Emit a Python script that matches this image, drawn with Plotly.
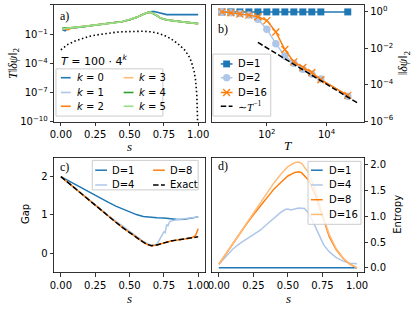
import plotly.graph_objects as go

W, H = 415, 309
def px(x): return x / W
def py(y): return 1 - y / H

# ---------------- data ----------------
# panel a
s_a = [0.01, 0.03, 0.05, 0.08, 0.1, 0.15, 0.2, 0.25, 0.3, 0.35, 0.4, 0.45, 0.5, 0.55,
       0.6, 0.62, 0.64, 0.66, 0.68, 0.7, 0.72, 0.74, 0.77, 0.8, 0.85, 0.9, 0.95, 1.0]
a_k0 = [0.30, 0.22, 0.40, 0.43, 0.47, 0.56, 0.69, 0.85, 1.05, 1.26, 1.55, 2.0, 3.02, 5.25,
        11.2, 14.5, 19.0, 20.9, 20.9, 17.8, 14.1, 11.2, 10.0, 10.0, 10.2, 10.2, 10.2, 10.0]
a_k1 = [0.33, 0.37, 0.40, 0.44, 0.47, 0.56, 0.69, 0.85, 1.05, 1.26, 1.55, 2.0, 3.02, 5.25,
        11.2, 14.1, 17.8, 16.6, 12.6, 7.94, 5.25, 3.80, 2.95, 2.51, 2.09, 1.74, 1.45, 1.20]
a_k2 = [0.36, 0.40, 0.28, 0.45, 0.47, 0.57, 0.69, 0.85, 1.05, 1.26, 1.55, 2.0, 3.02, 5.25,
        11.2, 14.1, 17.8, 16.6, 12.6, 7.94, 5.25, 3.80, 2.95, 2.51, 2.09, 1.74, 1.45, 1.20]
a_k3 = [0.38, 0.40, 0.42, 0.46, 0.52, 0.60, 0.70, 0.86, 1.05, 1.26, 1.55, 2.0, 3.02, 5.25,
        11.2, 14.1, 17.8, 16.6, 12.6, 7.94, 5.25, 3.80, 2.95, 2.51, 2.09, 1.74, 1.45, 1.20]
a_k4 = [0.40, 0.45, 0.42, 0.44, 0.47, 0.56, 0.69, 0.85, 1.05, 1.26, 1.55, 2.0, 3.02, 5.25,
        11.2, 14.1, 17.8, 16.6, 12.6, 7.94, 5.25, 3.80, 2.95, 2.51, 2.09, 1.74, 1.45, 1.20]
a_k5 = [0.355, 0.380, 0.398, 0.437, 0.468, 0.562, 0.692, 0.851, 1.05, 1.26, 1.55, 2.0, 3.02, 5.25,
        11.2, 14.1, 17.8, 16.6, 12.6, 7.94, 5.25, 3.80, 2.95, 2.51, 2.09, 1.74, 1.45, 1.20]
k_names = ["0", "1", "2", "3", "4", "5"]

s_dot = [0.0, 0.02, 0.05, 0.1, 0.15, 0.2, 0.25, 0.3, 0.35, 0.4, 0.45, 0.5, 0.55, 0.6, 0.65,
         0.7, 0.75, 0.8, 0.85, 0.9, 0.93, 0.95, 0.97, 0.98, 0.99, 0.995, 0.999]
dot_vals = [2.5e-3, 4.5e-3, 8.9e-3, 1.9e-2, 3.5e-2, 5.6e-2, 7.9e-2, 0.105, 0.132, 0.158, 0.178,
            0.195, 0.204, 0.200, 0.178, 0.132, 0.079, 0.035, 1.12e-2, 2.5e-3, 6.3e-4, 1.6e-4,
            1.6e-5, 2.5e-6, 6.3e-8, 1e-9, 3e-12]

# panel b
T_b = [3.125, 6.25, 12.5, 25, 50, 100, 200, 400, 800, 1600, 3200, 6400, 51200]
b_D1 = [0.99, 0.99, 0.99, 0.99, 0.99, 0.99, 0.99, 0.99, 0.99, 0.99, 0.99, 0.99, 0.99]
b_D2 = [1.0, 0.89, 0.81, 0.66, 0.39, 0.112, 0.0178, 3.7e-3, 1.48e-3, 7.1e-4, 3.8e-4, 2.04e-4, 2.34e-5]
b_D16 = [1.0, 0.89, 0.76, 0.66, 0.54, 0.33, 0.078, 8.5e-3, 1.78e-3, 8.7e-4, 4.7e-4, 1.86e-4, 2.57e-5]
T_ref = [50, 120000]
ref_vals = [2.1e-2, 8.9e-6]

# panel c
s_c = [0.0, 0.05, 0.1, 0.15, 0.2, 0.25, 0.3, 0.35, 0.4, 0.45, 0.5, 0.55, 0.6, 0.63, 0.66,
       0.7, 0.75, 0.8, 0.85, 0.9, 0.95, 0.98, 1.0]
gap_exact = [2.0, 1.85, 1.7, 1.55, 1.39, 1.24, 1.09, 0.95, 0.81, 0.67, 0.54, 0.41, 0.29, 0.23,
             0.2, 0.22, 0.28, 0.32, 0.35, 0.37, 0.4, 0.42, 0.43]
gap_D8 = [2.0, 1.85, 1.7, 1.55, 1.39, 1.24, 1.09, 0.95, 0.81, 0.67, 0.54, 0.41, 0.29, 0.23,
          0.2, 0.22, 0.28, 0.32, 0.35, 0.37, 0.4, 0.46, 0.64]
gap_D1 = [2.0, 1.9, 1.8, 1.7, 1.6, 1.5, 1.41, 1.32, 1.23, 1.15, 1.08, 1.01, 0.96, 0.945, 0.94,
          0.93, 0.92, 0.9, 0.88, 0.89, 0.92, 0.94, 0.95]
s_c4 = [0.0, 0.1, 0.2, 0.3, 0.35, 0.4, 0.45, 0.5, 0.55, 0.6, 0.65, 0.68, 0.7, 0.71, 0.72, 0.73,
        0.74, 0.75, 0.76, 0.77, 0.78, 0.79, 0.8, 0.82, 0.85, 0.9, 0.95, 1.0]
gap_D4 = [2.0, 1.7, 1.4, 1.1, 0.97, 0.84, 0.71, 0.57, 0.44, 0.31, 0.22, 0.21, 0.24, 0.3, 0.37,
          0.41, 0.5, 0.56, 0.54, 0.75, 0.72, 0.81, 0.84, 0.86, 0.88, 0.9, 0.92, 0.95]

# panel d
s_d = [0.0, 0.05, 0.1, 0.15, 0.2, 0.25, 0.3, 0.35, 0.4, 0.45, 0.5, 0.55, 0.58, 0.6, 0.65,
       0.7, 0.75, 0.8, 0.85, 0.9, 0.95, 1.0]
ent_D1 = [0.0, 0.0, 0.0, 0.0, 0.0, 0.0, 0.0, 0.0, 0.0, 0.0, 0.0, 0.0, 0.0, 0.0, 0.0,
          0.0, 0.0, 0.0, 0.0, 0.0, 0.0, 0.0]
ent_D8 = [0.07, 0.27, 0.47, 0.66, 0.85, 1.03, 1.2, 1.37, 1.53, 1.66, 1.78, 1.85, 1.86, 1.84,
          1.7, 1.4, 0.98, 0.6, 0.35, 0.18, 0.07, 0.0]
ent_D16 = [0.07, 0.27, 0.47, 0.67, 0.87, 1.07, 1.27, 1.46, 1.65, 1.82, 1.96, 2.04, 2.05, 2.02,
           1.84, 1.5, 1.03, 0.64, 0.37, 0.19, 0.07, 0.0]
s_d4 = [0.0, 0.05, 0.1, 0.15, 0.2, 0.25, 0.3, 0.35, 0.4, 0.45, 0.48, 0.5, 0.52, 0.55, 0.58,
        0.62, 0.65, 0.68, 0.7, 0.73, 0.76, 0.8, 0.85, 0.9, 0.95, 1.0]
ent_D4 = [0.07, 0.22, 0.36, 0.47, 0.56, 0.64, 0.73, 0.85, 0.97, 1.08, 1.13, 1.14, 1.12, 1.14,
          1.16, 1.15, 1.06, 0.9, 0.78, 0.6, 0.44, 0.31, 0.2, 0.13, 0.09, 0.08]

s_ticks = [0, 0.25, 0.5, 0.75, 1.0]
s_ticktext = ["0.00", "0.25", "0.50", "0.75", "1.00"]

# ---------------- styling ----------------
C = ['#1f77b4', '#aec7e8', '#ff7f0e', '#ffbb78', '#2ca02c', '#98df8a']
DASH = "5.5px,2.4px"
DOT = "1.5px,2.5px"
SANS = "DejaVu Sans"
SERIF = "Liberation Serif"

fig = go.Figure()

for i, ys in enumerate([a_k0, a_k1, a_k2, a_k3, a_k4, a_k5]):
    fig.add_trace(go.Scatter(x=s_a, y=ys, mode='lines', line=dict(color=C[i], width=1.7),
                             xaxis='x', yaxis='y', showlegend=False))
fig.add_trace(go.Scatter(x=s_dot, y=dot_vals, mode='lines',
                         line=dict(color='black', width=1.6, dash=DOT),
                         xaxis='x', yaxis='y', showlegend=False))

fig.add_trace(go.Scatter(x=T_b, y=b_D1, mode='lines+markers', line=dict(color=C[0], width=1.5),
                         marker=dict(symbol='square', size=7, color=C[0]),
                         xaxis='x2', yaxis='y2', showlegend=False))
fig.add_trace(go.Scatter(x=T_b, y=b_D2, mode='lines+markers', line=dict(color=C[1], width=1.5),
                         marker=dict(symbol='circle', size=7.5, color=C[1]),
                         xaxis='x2', yaxis='y2', showlegend=False))
fig.add_trace(go.Scatter(x=T_b, y=b_D16, mode='lines+markers', line=dict(color=C[2], width=1.5),
                         marker=dict(symbol='x-thin', size=7, color=C[2],
                                     line=dict(color=C[2], width=1.3)),
                         xaxis='x2', yaxis='y2', showlegend=False))
fig.add_trace(go.Scatter(x=T_ref, y=ref_vals, mode='lines',
                         line=dict(color='black', width=1.5, dash=DASH),
                         xaxis='x2', yaxis='y2', showlegend=False))

fig.add_trace(go.Scatter(x=s_c, y=gap_D1, mode='lines', line=dict(color=C[0], width=1.5),
                         xaxis='x3', yaxis='y3', showlegend=False))
fig.add_trace(go.Scatter(x=s_c4, y=gap_D4, mode='lines', line=dict(color=C[1], width=1.5),
                         xaxis='x3', yaxis='y3', showlegend=False))
fig.add_trace(go.Scatter(x=s_c, y=gap_D8, mode='lines', line=dict(color=C[2], width=1.5),
                         xaxis='x3', yaxis='y3', showlegend=False))
fig.add_trace(go.Scatter(x=s_c, y=gap_exact, mode='lines',
                         line=dict(color='black', width=1.5, dash=DASH),
                         xaxis='x3', yaxis='y3', showlegend=False))

fig.add_trace(go.Scatter(x=s_d, y=ent_D1, mode='lines', line=dict(color=C[0], width=1.5),
                         xaxis='x4', yaxis='y4', showlegend=False))
fig.add_trace(go.Scatter(x=s_d4, y=ent_D4, mode='lines', line=dict(color=C[1], width=1.5),
                         xaxis='x4', yaxis='y4', showlegend=False))
fig.add_trace(go.Scatter(x=s_d, y=ent_D8, mode='lines', line=dict(color=C[2], width=1.5),
                         xaxis='x4', yaxis='y4', showlegend=False))
fig.add_trace(go.Scatter(x=s_d, y=ent_D16, mode='lines', line=dict(color=C[3], width=1.5),
                         xaxis='x4', yaxis='y4', showlegend=False))

def axis(**kw):
    d = dict(showline=True, linecolor='black', linewidth=0.8, mirror=True, ticks='outside',
             ticklen=3.5, tickwidth=0.8, tickcolor='black', showgrid=False, zeroline=False,
             tickfont=dict(family=SANS, size=10, color='black'), tickmode='array')
    d.update(kw)
    return d

sup = lambda e: "10<sup>%s</sup>" % e.replace('-', '\u2212')

layout = dict(
    width=W, height=H, margin=dict(l=0, r=0, t=0, b=0, pad=0),
    paper_bgcolor='white', plot_bgcolor='white', showlegend=False,
    xaxis=axis(domain=[px(51), px(205)], range=[-0.05, 1.05], anchor='y',
               tickvals=s_ticks, ticktext=s_ticktext),
    yaxis=axis(domain=[py(124), py(5)], type='log', range=[-10, 2], anchor='x',
               tickvals=[1e2, 1e-1, 1e-4, 1e-7, 1e-10],
               ticktext=[sup(e) for e in ["2", "-1", "-4", "-7", "-10"]]),
    xaxis2=axis(domain=[px(212), px(367)], type='log', range=[0.16, 5.25], anchor='y2',
                tickvals=[1e2, 1e4], ticktext=[sup("2"), sup("4")]),
    yaxis2=axis(domain=[py(124), py(5)], type='log', range=[-6.05, 0.38], anchor='x2',
                side='right', tickvals=[1, 1e-2, 1e-4, 1e-6],
                ticktext=[sup(e) for e in ["0", "-2", "-4", "-6"]]),
    xaxis3=axis(domain=[px(51), px(205)], range=[-0.05, 1.05], anchor='y3',
                tickvals=s_ticks, ticktext=s_ticktext),
    yaxis3=axis(domain=[py(277), py(160)], range=[-0.5, 2.5], anchor='x3',
                tickvals=[0, 1, 2], ticktext=["0", "1", "2"]),
    xaxis4=axis(domain=[px(212), px(367)], range=[-0.05, 1.05], anchor='y4',
                tickvals=s_ticks, ticktext=s_ticktext),
    yaxis4=axis(domain=[py(277), py(160)], range=[-0.09, 2.14], anchor='x4', side='right',
                tickvals=[0, 0.5, 1, 1.5, 2], ticktext=["0.0", "0.5", "1.0", "1.5", "2.0"]),
)

annotations = []
shapes = []

def text(x, y, t, size=10, family=SANS, xanchor='left', angle=0):
    annotations.append(dict(x=px(x), y=py(y), xref='paper', yref='paper', text=t,
                            showarrow=False, xanchor=xanchor, yanchor='middle',
                            textangle=angle, borderpad=0,
                            font=dict(family=family, size=size, color='black')))

# axis titles
text(128, 149, "<i>s</i>", 13, SERIF, 'center')
text(290, 148, "<i>T</i>", 13, SERIF, 'center')
text(128, 303, "<i>s</i>", 13, SERIF, 'center')
text(290, 303, "<i>s</i>", 13, SERIF, 'center')
text(10, 64, "<i>T</i>\u2016<i>\u03b4\u03c8</i>\u2016<sub>2</sub>", 12, SERIF, 'center', -90)
text(408, 64, "\u2016<i>\u03b4\u03c8</i>\u2016<sub>2</sub>", 12, SERIF, 'center', -90)
text(22, 218, "Gap", 10, SANS, 'center', -90)
text(401, 218, "Entropy", 10, SANS, 'center', -90)

# panel labels
text(56, 16, "a)", 12, SERIF)
text(217, 29, "b)", 12, SERIF)
text(56, 170, "c)", 12, SERIF)
text(217, 169, "d)", 12, SERIF)

def box(x0, y0, x1, y1):
    shapes.append(dict(type='rect', xref='paper', yref='paper', x0=px(x0), x1=px(x1),
                       y0=py(y1), y1=py(y0), fillcolor='rgba(255,255,255,0.8)',
                       line=dict(color='#cccccc', width=1), layer='above'))

def hline(x0, x1, y, color, width=1.5, dash='solid'):
    shapes.append(dict(type='line', xref='paper', yref='paper', x0=px(x0), x1=px(x1),
                       y0=py(y), y1=py(y), line=dict(color=color, width=width, dash=dash),
                       layer='above'))

# legend a
text(57, 61, "<i>T</i> = 100 \u00b7 4<sup><i>k</i></sup>", 11, SANS)
box(53, 70, 162, 118)
rows_a = [79, 94, 108]
for i, k in enumerate(k_names):
    col = i // 3
    y = rows_a[i % 3]
    lx = [58, 122][col]
    hline(lx, lx + 10, y, C[i], 1.6)
    text(lx + 15, y, "<i>k</i> = " + k, 10, SANS)

# legend b
box(213, 55, 272, 118)
rows_b = [65, 79, 94, 108]
b_names = ["D=1", "D=2", "D=16"]
for i, nm in enumerate(b_names):
    y = rows_b[i]
    hline(221, 233, y, C[i], 1.5)
    text(238, y, nm, 10, SANS)
y = rows_b[0]
shapes.append(dict(type='rect', xref='paper', yref='paper', x0=px(223.5), x1=px(230.5),
                   y0=py(y + 3.5), y1=py(y - 3.5), fillcolor=C[0], line=dict(width=0),
                   layer='above'))
y = rows_b[1]
shapes.append(dict(type='circle', xref='paper', yref='paper', x0=px(223.3), x1=px(230.7),
                   y0=py(y + 3.7), y1=py(y - 3.7), fillcolor=C[1], line=dict(width=0),
                   layer='above'))
y = rows_b[2]
for dy in (-1, 1):
    shapes.append(dict(type='line', xref='paper', yref='paper', x0=px(223.5), x1=px(230.5),
                       y0=py(y - 3.5 * dy), y1=py(y + 3.5 * dy),
                       line=dict(color=C[2], width=1.3), layer='above'))
hline(221, 233, rows_b[3], 'black', 1.5, DASH)
text(238, rows_b[3], "\u223c<i>T</i><sup>\u22121</sup>", 11, SERIF)

# legend c
box(90, 163, 198, 193)
c_items = [("D=1", C[0], 'solid', 93, 173), ("D=4", C[1], 'solid', 93, 188),
           ("D=8", C[2], 'solid', 152, 173), ("Exact", 'black', DASH, 152, 188)]
for nm, col, dsh, lx, y in c_items:
    hline(lx, lx + 12, y, col, 1.5, dsh)
    text(lx + 16, y, nm, 10, SANS)

# legend d
box(310, 164, 364, 228)
d_items = [("D=1", C[0]), ("D=4", C[1]), ("D=8", C[2]), ("D=16", C[3])]
for i, (nm, col) in enumerate(d_items):
    y = [173, 188, 203, 218][i]
    hline(313, 325, y, col, 1.5)
    text(330, y, nm, 10, SANS)

layout['annotations'] = annotations
layout['shapes'] = shapes
fig.update_layout(**layout)
fig.write_html("out.html", config={'displayModeBar': False, 'staticPlot': True},
               post_script="document.body.style.margin='0';document.body.style.padding='0';")
